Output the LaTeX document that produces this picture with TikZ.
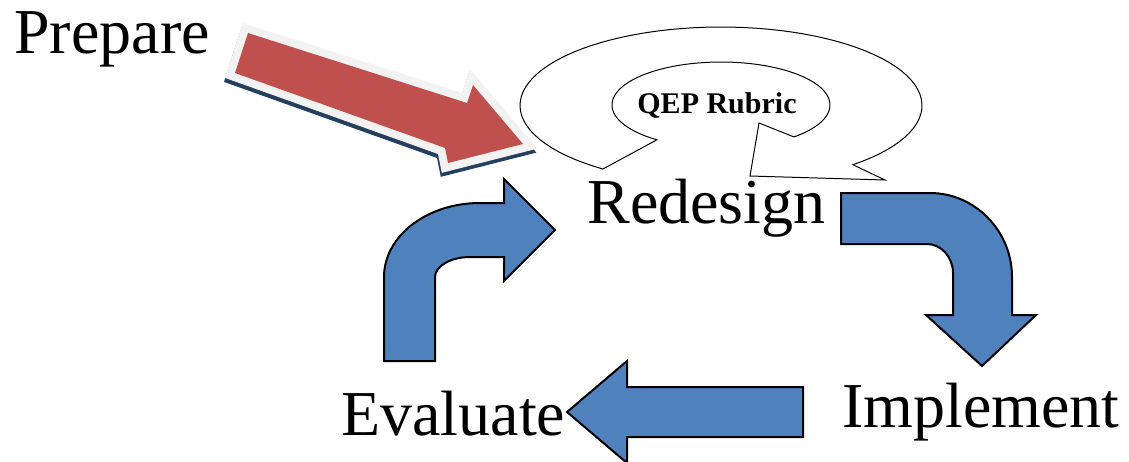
\documentclass[tikz,border=0pt]{standalone}
\usepackage{fontspec}
\setmainfont{Liberation Serif}
\usepackage{tikz}
\definecolor{qepblue}{HTML}{4F81BD}
\definecolor{qepred}{HTML}{C0504D}
\definecolor{qepnavy}{HTML}{243F60}
\definecolor{qepedge}{HTML}{F2F2F2}

\begin{document}
\begin{tikzpicture}[x=0.5pt, y=-0.5pt,
  stage/.style={inner sep=0pt, anchor=base west, font=\fontsize{32}{38}\selectfont},
  bluearrow/.style={fill=qepblue, draw=black, line width=1pt, line join=miter},
  ring/.style={fill=white, draw=black, line width=0.5pt}]
\useasboundingbox (0,0) rectangle (1129,461);
% loop arrow round the rubric
\draw[ring] plot[domain=126:409, samples=80] ({721+201*cos(\x)},{105.5+78.5*sin(\x)})
  -- (885,180) -- (750,176) -- (759,123)
  -- plot[domain=408:126, samples=80] ({721+109*cos(\x)},{105+43*sin(\x)}) -- cycle;
\node[inner sep=0pt, anchor=base west, font=\bfseries\fontsize{15}{18}\selectfont] (Q) at (637,113) {QEP Rubric};
% red arrow with shadow and light rim
\draw[fill=qepnavy, draw=qepnavy, line width=8pt, line join=miter, shift={(-1,4)}]
  (248,33) -- (467,103) -- (473,85) -- (523,144) -- (448,163) -- (445,148) -- (235,73) -- cycle;
\draw[fill=qepedge, draw=qepedge, line width=8pt, line join=miter]
  (248,33) -- (467,103) -- (473,85) -- (523,144) -- (448,163) -- (445,148) -- (235,73) -- cycle;
\fill[qepred] (248,33) -- (467,103) -- (473,85) -- (523,144) -- (448,163) -- (445,148) -- (235,73) -- cycle;
% cycle arrows
\draw[bluearrow] (841,193) -- (930,193) .. controls (975,193) and (1012,231) .. (1012,277)
  -- (1012,315) -- (1036,315) -- (982,366) -- (926,315) -- (953,315) -- (953,273)
  .. controls (953,257) and (941,244) .. (927,244) -- (841,244) -- cycle;
\draw[bluearrow] (803,387) -- (627,387) -- (627,361) -- (567,412) -- (627,463) -- (627,437) -- (803,437) -- cycle;
\draw[bluearrow] (384,361) -- (384,277) .. controls (384,236) and (427,203) .. (480,203)
  -- (504,203) -- (504,179) -- (555,230) -- (504,281) -- (504,257) -- (470,257)
  .. controls (451,257) and (435,266) .. (435,277) -- (435,361) -- cycle;
% stages
\node[stage] (P) at (14,53) {Prepare};
\node[stage] (R) at (587,223) {Redesign};
\node[stage] (I) at (842,427) {Implement};
\node[stage] (E) at (341,435) {Evaluate};
\end{tikzpicture}
\end{document}
